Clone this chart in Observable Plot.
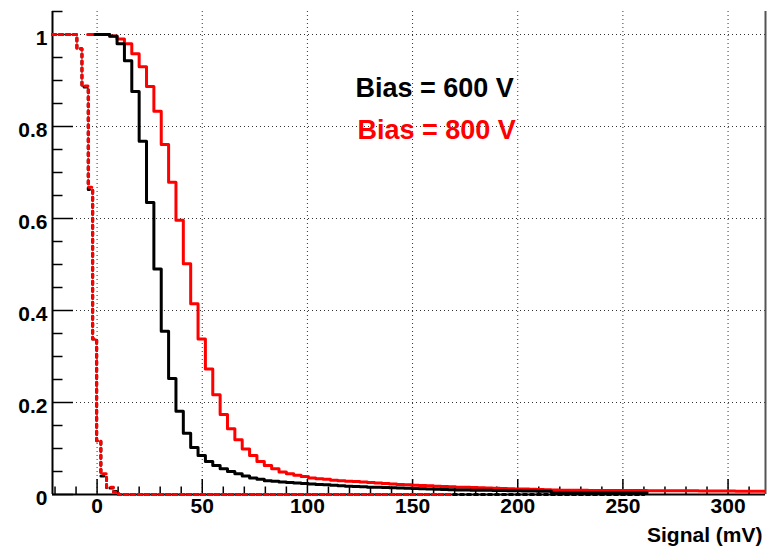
<!DOCTYPE html>
<html><head><meta charset="utf-8">
<script src="https://cdn.jsdelivr.net/npm/d3@7"></script>
<script src="https://cdn.jsdelivr.net/npm/@observablehq/plot@0.6"></script>
<style>body{margin:0;background:#fff}</style>
</head><body><div id="chart"></div>
<script>
// ---- axes / ticks ----
const xDomain = [-21.2, 317.8];
const yDomain = [0, 1.05];
const xMajorTicks = [0, 50, 100, 150, 200, 250, 300];
const xMinorTicks = d3.range(-20, 320, 10).filter(d => d % 50 !== 0);
const yMajorTicks = [0, 0.2, 0.4, 0.6, 0.8, 1];
const yMinorTicks = [0.05,0.1,0.15,0.25,0.3,0.35,0.45,0.5,0.55,0.65,0.7,0.75,0.85,0.9,0.95,1.05];
const xTitle = "Signal (mV)";
const seriesLabels = ["Bias = 600 V", "Bias = 800 V"];

// ---- signal histograms (fixed bins) ----
const binStart600 = -1, binStart800 = -4.5, binWidth = 3.5;
const bias600 = [1.0,1.0,0.996,0.98,0.943,0.876,0.768,0.635,0.490,0.355,0.252,0.181,0.133,0.102,0.085,0.072,0.063,0.056,0.050,0.045,0.040,0.036,0.033,0.030,0.029,0.027,0.026,0.025,0.024,0.023,0.022,0.021,0.020,0.019,0.018,0.0175,0.017,0.016,0.0155,0.015,0.0145,0.014,0.0135,0.013,0.0125,0.012,0.0115,0.011,0.0105,0.010,0.0098,0.0095,0.0092,0.009,0.0087,0.0085,0.0082,0.008,0.0078,0.0075,0.0072,0.007,0.004,0.004,0.004,0.004,0.004,0.004,0.004,0.004,0.004,0.004,0.004,0.004,0.004];
const bias800 = [1.0,1.0,1.0,0.997,0.99,0.98,0.958,0.930,0.887,0.833,0.761,0.679,0.596,0.5015,0.4145,0.338,0.273,0.217,0.174,0.143,0.119,0.099,0.085,0.072,0.063,0.056,0.049,0.045,0.042,0.039,0.036,0.034,0.033,0.031,0.030,0.029,0.028,0.027,0.026,0.025,0.024,0.023,0.022,0.021,0.020,0.0195,0.019,0.018,0.0175,0.017,0.016,0.0155,0.015,0.0145,0.014,0.0135,0.013,0.0125,0.012,0.0118,0.0115,0.011,0.0105,0.010,0.0095,0.0092,0.009,0.009,0.0089,0.0089,0.0088,0.0088,0.0087,0.0087,0.0086,0.0085,0.0084,0.0083,0.0082,0.0081,0.008,0.008,0.0079,0.0078,0.0077,0.0076,0.0075,0.0074,0.0073,0.0072,0.0071,0.007,0.007];

// ---- pedestal (noise) curves, dotted ----
const noiseEdges    = [xDomain[0], -9.6, -7.2, -4.2, -2.1, -0.2, 1.8, 4.5, 7.8, 10.2];
const noise600Vals  = [1.0, 0.969, 0.886, 0.663, 0.338, 0.117, 0.040, 0.014, 0.0065, 0];
const noise800Vals  = [1.0, 0.969, 0.888, 0.668, 0.338, 0.117, 0.045, 0.016, 0.005, 0];
const noise600End = 260, noise800End = 168;

function hist(start, width, vals) {
  const pts = vals.map((v, i) => ({x: start + i * width, y: v}));
  pts.push({x: start + vals.length * width, y: vals[vals.length - 1]});
  return pts;
}
function steps(edges, vals, end) {
  const pts = edges.map((e, i) => ({x: e, y: vals[i]}));
  pts.push({x: end, y: vals[vals.length - 1]});
  return pts;
}
const h600 = hist(binStart600, binWidth, bias600);
const h800 = hist(binStart800, binWidth, bias800);
const n600 = steps(noiseEdges, noise600Vals, noise600End);
const n800 = steps(noiseEdges, noise800Vals, noise800End);

const font = '"Liberation Sans", Arial, Helvetica, sans-serif';
const gridStyle = {stroke: "#333", strokeOpacity: 1, strokeWidth: 1, strokeDasharray: "1,3"};

const chart = Plot.plot({
  width: 769, height: 547,
  marginLeft: 52, marginRight: 4, marginTop: 11, marginBottom: 53,
  style: {fontFamily: font, background: "#fff", color: "#000", overflow: "visible"},
  x: {domain: xDomain, label: null},
  y: {domain: yDomain, label: null},
  marks: [
    Plot.gridX(xMajorTicks, gridStyle),
    Plot.gridY(yMajorTicks.filter(d => d > 0), gridStyle),
    Plot.ruleY([yDomain[0]], {stroke: "#000", strokeWidth: 2}),
    Plot.ruleX([xDomain[0]], {stroke: "#000", strokeWidth: 2}),
    Plot.ruleX([xDomain[1]], {stroke: "#555", strokeWidth: 2}),
    Plot.axisX(xMajorTicks, {tickSize: -15, tickFormat: () => "", strokeWidth: 1.5}),
    Plot.axisX(xMinorTicks, {tickSize: -7.5, tickFormat: () => "", strokeWidth: 1.5}),
    Plot.axisY(yMajorTicks, {tickSize: -21, tickFormat: () => "", strokeWidth: 1.5}),
    Plot.axisY(yMinorTicks, {tickSize: -10.5, tickFormat: () => "", strokeWidth: 1.5}),
    Plot.line(n600, {x: "x", y: "y", curve: "step-after", stroke: "#000", strokeWidth: 3, strokeDasharray: "3,4"}),
    Plot.line(n800, {x: "x", y: "y", curve: "step-after", stroke: "#ff0000", strokeWidth: 3, strokeDasharray: "3,4"}),
    Plot.line(h800, {x: "x", y: "y", curve: "step-after", stroke: "#ff0000", strokeWidth: 3, clip: true}),
    Plot.line(h600, {x: "x", y: "y", curve: "step-after", stroke: "#000", strokeWidth: 3, clip: true}),
    Plot.axisX(xMajorTicks, {tickSize: 0, tickPadding: 4, fontSize: 21, fontWeight: "bold", fill: "#000"}),
    Plot.axisY(yMajorTicks, {tickSize: 0, tickPadding: 5, fontSize: 21, fontWeight: "bold", fill: "#000", tickFormat: d => String(d), dy: 4}),
    Plot.text([xTitle], {frameAnchor: "bottom-right", lineAnchor: "middle", dx: -3, dy: 41, textAnchor: "end", fontSize: 21, fontWeight: "bold", fill: "#000"}),
    Plot.text([seriesLabels[0]], {frameAnchor: "top-left", lineAnchor: "middle", dx: 303, dy: 77, textAnchor: "start", fontSize: 27, fontWeight: "bold", fill: "#000"}),
    Plot.text([seriesLabels[1]], {frameAnchor: "top-left", lineAnchor: "middle", dx: 305, dy: 119, textAnchor: "start", fontSize: 27, fontWeight: "bold", fill: "#ff0000"})
  ]
});
document.getElementById("chart").appendChild(chart);
</script>
</body></html>
